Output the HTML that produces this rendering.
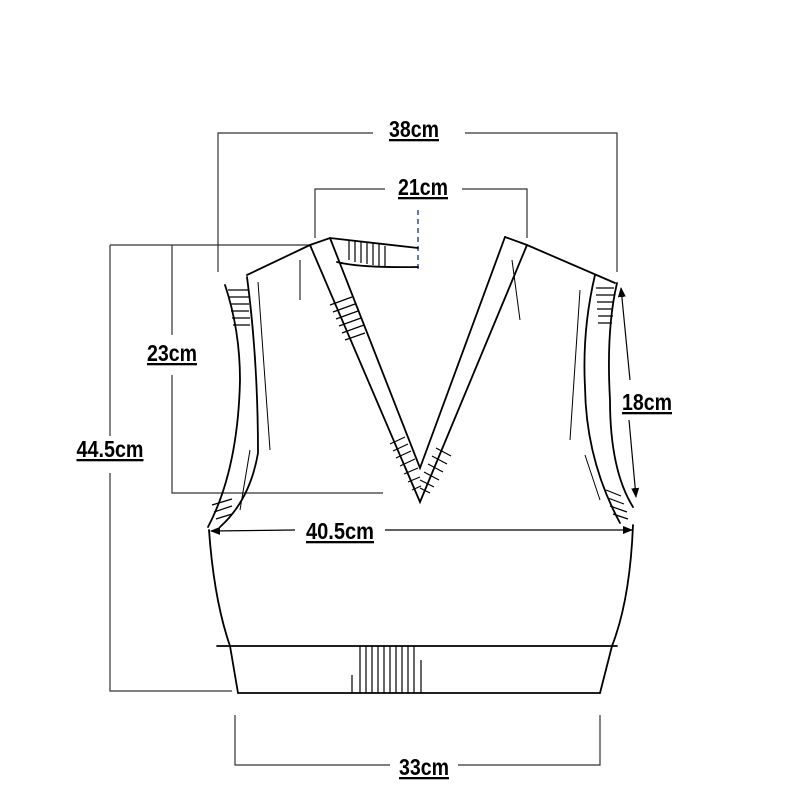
<!DOCTYPE html>
<html><head><meta charset="utf-8"><style>
html,body{margin:0;padding:0;background:#fff;}
svg{display:block}
text{font-family:"Liberation Sans Narrow","Liberation Sans",sans-serif;font-weight:bold;font-size:23px;fill:#000;text-decoration:underline;}
</style></head><body>
<svg width="800" height="800" viewBox="0 0 800 800" xmlns="http://www.w3.org/2000/svg">
<defs><marker id="ah" markerWidth="10" markerHeight="10" refX="9" refY="5" orient="auto" markerUnits="userSpaceOnUse"><path d="M0,1 L10,5 L0,9 z" fill="#000"/></marker></defs>
<g stroke="#333" stroke-width="1.2" fill="none">
<path d="M218,272 V133 H373 M465,133 H617 V272"/>
<path d="M315,238 V189 H385 M462,189 H527 V238"/>
<path d="M110,245 H310 M172,245 V335 M172,375 V493 H383"/>
<path d="M110,245 V436 M110,473 V691 H232"/>
<path d="M235,715 V765 H390 M458,765 H600 V715"/>
</g>
<line x1="418" y1="210" x2="418" y2="270" stroke="#2a4fa0" stroke-width="1.5" stroke-dasharray="5,4"/>
<g stroke="#000" stroke-width="1.2">
<line x1="630" y1="380" x2="621" y2="288" marker-end="url(#ah)"/>
<line x1="629" y1="420" x2="636" y2="497" marker-end="url(#ah)"/>
<line x1="295" y1="530" x2="211" y2="531" marker-end="url(#ah)"/>
<line x1="385" y1="530" x2="632" y2="530" marker-end="url(#ah)"/>
</g>
<g stroke="#000" stroke-width="1.8" fill="none" stroke-linecap="round">
<path d="M247,275 L310,245 L330,238 L418,248"/>
<path d="M337,262 Q360,268 418,267"/>
<path d="M505,237 L527,245 L615,283"/>
<path d="M225,285 Q240,330 240,380 Q238,470 208,527"/>
<path d="M247,277 Q258,360 258,453 Q250,500 220,527"/>
<path d="M617,283 Q606,330 610,400 Q610,470 633,507"/>
<path d="M595,275 Q582,330 585,387 Q586,460 620,523"/>
<path d="M310,245 L420,502 L527,245"/>
<path d="M330,238 L420,468 L505,237"/>
<path d="M209,530 Q214,600 230,646 L238,693"/>
<path d="M633,525 Q630,600 612,646 L600,693"/>
<path d="M217,646 H617 M238,693 H600"/>
</g>
<g stroke="#000" stroke-width="1.2">
<path d="M228,290h20M229,297h20M230,304h19M231,311h18M232,318h18M233,325h17"/>
<path d="M596,288h18M596,295h18M597,302h17M597,309h16M598,316h15M598,323h14"/>
<path d="M330,305l22,-8M333,312l22,-8M336,319l22,-8M339,326l22,-8M342,333l22,-8M345,340l20,-7"/>
<path d="M390,444l15,-7M393,451l15,-7M396,458l15,-7M400,466l15,-7M404,474l14,-6M408,482l12,-5M412,490l9,-4"/>
<path d="M436,448l15,8M432,456l15,8M428,464l15,8M424,472l15,8M420,480l14,7M420,488l10,5"/>
<path d="M212,505l20,-6M214,512l18,-6M216,519l16,-5"/>
<path d="M606,490l15,6M608,498l16,6M610,506l17,6M613,514l15,5"/>
<path d="M349,260v-20M355,262v-22M361,263v-22M367,264v-22M373,265v-22M379,266v-22M385,266v-20"/>
<path d="M360,646v47M366,646v47M372,646v47M378,646v47M384,646v47M390,646v47M396,646v47M402,646v47M408,646v47M414,646v47M421,660v33M352,675v18"/>
</g>
<g stroke="#000" stroke-width="1" fill="none">
<path d="M258,282 L270,450 M300,260 L300,300 M512,260 L520,320 M580,290 L570,440 M240,510 L250,450 M600,500 L585,455"/>
</g>
<text x="414" y="137" text-anchor="middle" textLength="50" lengthAdjust="spacingAndGlyphs">38cm</text>
<text x="423" y="195" text-anchor="middle" textLength="50" lengthAdjust="spacingAndGlyphs">21cm</text>
<text x="172" y="361" text-anchor="middle" textLength="50" lengthAdjust="spacingAndGlyphs">23cm</text>
<text x="110" y="457" text-anchor="middle" textLength="67" lengthAdjust="spacingAndGlyphs">44.5cm</text>
<text x="647" y="410" text-anchor="middle" textLength="50" lengthAdjust="spacingAndGlyphs">18cm</text>
<text x="340" y="539" text-anchor="middle" textLength="68" lengthAdjust="spacingAndGlyphs">40.5cm</text>
<text x="424" y="775" text-anchor="middle" textLength="50" lengthAdjust="spacingAndGlyphs">33cm</text>
</svg>
</body></html>
